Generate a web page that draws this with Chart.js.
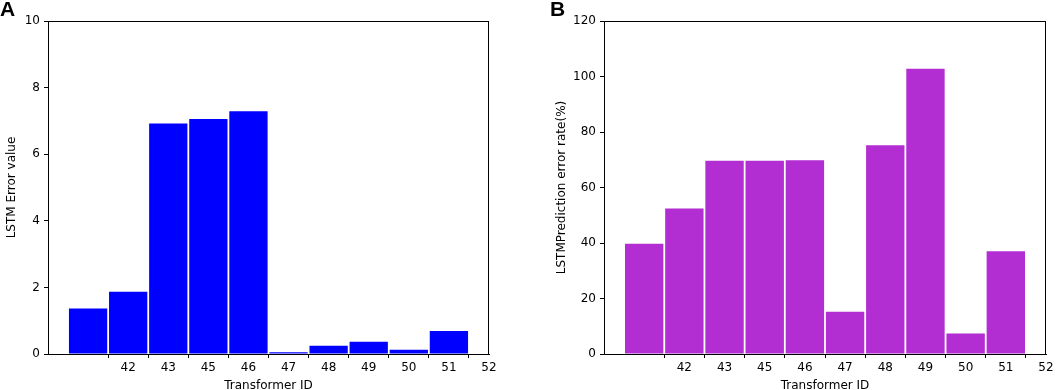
<!DOCTYPE html>
<html>
<head>
<meta charset="utf-8">
<script src="https://cdn.jsdelivr.net/npm/chart.js@4/dist/chart.umd.min.js"></script>
<style>
  html, body { margin: 0; padding: 0; background: #fff; overflow: hidden; }
  .wrap { position: relative; width: 1059px; height: 390px; }
  .panel { position: absolute; top: 0; height: 396px; }
  .tag { position: absolute; top: -3px; font: bold 21px "Liberation Sans", Arial, sans-serif; color: #000; }
</style>
</head>
<body>
<div class="wrap">
  <div class="panel" style="left:0;width:530px"><canvas id="chartA"></canvas></div>
  <div class="panel" style="left:530px;width:529px"><canvas id="chartB"></canvas></div>
  <div class="tag" style="left:0px">A</div>
  <div class="tag" style="left:550px">B</div>
</div>
<script>
// bars sit at x = 0..9, tick labels at x = 1..10
const barPositions = [0, 1, 2, 3, 4, 5, 6, 7, 8, 9];
const tickPositions = [1, 2, 3, 4, 5, 6, 7, 8, 9, 10];
const tickLabels = ['42', '43', '45', '46', '47', '48', '49', '50', '51', '52'];

const errorValues = [1.37, 1.87, 6.92, 7.06, 7.29, 0.05, 0.25, 0.37, 0.13, 0.69];
const errorRates = [39.7, 52.4, 69.6, 69.6, 69.8, 15.2, 75.2, 102.8, 7.4, 37.0];

const FONT = { family: 'DejaVu Sans', size: 12 };

const frame = {
    id: 'frame',
    afterDraw(chart) {
        const a = chart.chartArea, ctx = chart.ctx;
        ctx.save();
        ctx.strokeStyle = '#000';
        ctx.lineWidth = 1;
        ctx.strokeRect(a.left + 0.5, a.top + 0.5, a.right - a.left - 1, a.bottom - a.top);
        ctx.restore();
    }
};

function makeChart(id, values, color, yMax, yStep, yTitle, yWidth, padRight, titlePad) {
    new Chart(document.getElementById(id), {
        type: 'bar',
        data: {
            datasets: [{
                data: barPositions.map((x, i) => ({ x: x, y: values[i] })),
                backgroundColor: color,
                borderWidth: 0,
                barPercentage: 0.955,
                categoryPercentage: 1.0
            }]
        },
        options: {
            responsive: true,
            maintainAspectRatio: false,
            animation: false,
            layout: { padding: { top: 21, right: padRight, left: 0, bottom: 0 } },
            plugins: { legend: { display: false }, tooltip: { enabled: false } },
            scales: {
                x: {
                    type: 'linear',
                    offset: false,
                    min: -1,
                    max: 10,
                    afterBuildTicks: (s) => { s.ticks = tickPositions.map(v => ({ value: v })); },
                    afterFit: (s) => { s.height = 42; },
                    ticks: {
                        autoSkip: false,
                        maxRotation: 0,
                        padding: 3,
                        color: '#000',
                        font: FONT,
                        callback: (v) => tickLabels[tickPositions.indexOf(v)] ?? ''
                    },
                    grid: { drawOnChartArea: false, drawTicks: true, tickLength: 4, color: '#000' },
                    border: { display: true, color: '#000' },
                    title: { display: true, text: 'Transformer ID', color: '#000', font: FONT, padding: { top: 0, bottom: 3 } }
                },
                y: {
                    min: 0,
                    max: yMax,
                    afterFit: (s) => { s.width = yWidth; },
                    ticks: { stepSize: yStep, padding: 4, color: '#000', font: FONT },
                    grid: { drawOnChartArea: false, drawTicks: true, tickLength: 4, color: '#000' },
                    border: { display: true, color: '#000' },
                    title: { display: true, text: yTitle, color: '#000', font: FONT, padding: { top: titlePad, bottom: 0 } }
                }
            }
        },
        plugins: [frame]
    });
}

makeChart('chartA', errorValues, '#0000ff', 10, 2, 'LSTM Error value', 48, 41, 5);
makeChart('chartB', errorRates, 'rgb(178,45,210)', 120, 20, 'LSTMPrediction error rate(%)', 74, 13, 25);
</script>
</body>
</html>
